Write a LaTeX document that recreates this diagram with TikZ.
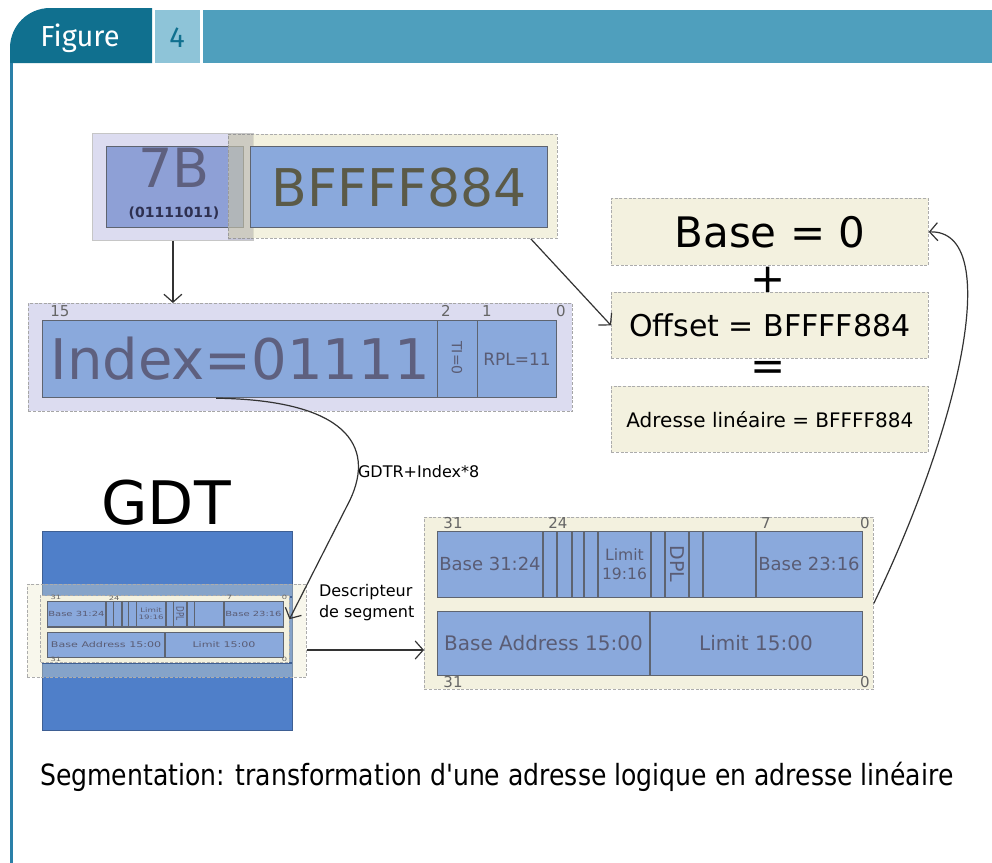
\documentclass[tikz,border=0pt]{standalone}
\usepackage{fontspec}
\setmainfont{DejaVu Sans}
\newfontfamily\headfont{Fira Sans}
\newfontfamily\capfont{DejaVu Sans}[FakeStretch=0.86]
\usetikzlibrary{arrows.meta}

\definecolor{cellblue}{HTML}{8AA9DC}
\definecolor{selblue}{HTML}{8EA0D6}
\definecolor{lavender}{HTML}{DCDCF0}
\definecolor{paper}{HTML}{F3F1DF}
\definecolor{paperdeep}{HTML}{ECE9CB}
\definecolor{gdtblue}{HTML}{4F7FC9}
\definecolor{gdtedge}{HTML}{3E5F93}
\definecolor{figdark}{HTML}{10708F}
\definecolor{figlight}{HTML}{8EC4D8}
\definecolor{figmid}{HTML}{4F9FBD}
\definecolor{figline}{HTML}{2A80A8}
\definecolor{celltext}{HTML}{5A5C74}
\definecolor{celledge}{HTML}{5E6470}
\definecolor{selfg}{HTML}{5E607F}
\definecolor{offfg}{HTML}{5B5A47}
\definecolor{binfg}{HTML}{2E3050}
\definecolor{arrowgray}{HTML}{333333}

\newcommand\fsz[1]{\fontsize{#1}{#1}\selectfont}

\tikzset{
  wh/.style 2 args={minimum width=#1*0.5pt, minimum height=#2*0.5pt},
  cell/.style={draw=celledge, line width=0.6pt, fill=cellblue, inner sep=0pt, text=celltext},
  paperbox/.style={draw=gray!65, line width=0.4pt, dash pattern=on 1.5pt off 0.8pt, fill=paper, inner sep=0pt},
  lavbox/.style={draw=gray!45, line width=0.4pt, fill=lavender, inner sep=0pt},
  divider/.style={draw=celledge, line width=0.8pt},
  bitnum/.style={text=gray!80!black, font=\fsz{7.5pt}, inner sep=0pt},
  arr/.style={draw=arrowgray, line width=0.6pt, -{Straight Barb[length=4pt,width=9pt]}},
  desc/.pic={
    % the 8 bytes of a descriptor, two words
    \node[paperbox, wh={449}{172}, anchor=north west] (-frame) at (0,0) {};
    \node[cell, wh={425}{66}, anchor=north west] (-r1) at (13,14) {};
    \node[cell, wh={425}{64}, anchor=north west] (-r2) at (13,94) {};
    \foreach \x in {119,133,148,160,174,227,241,265,279,332}
      \draw[divider] (\x,14) -- (\x,80);
    \draw[divider] (226,94) -- (226,158);
    \foreach \x/\y/\bitval in {29/6/31, 134/6/24, 342/6/7, 441/6/0, 29/165/31, 441/165/0}
      \node[bitnum] at (\x,\y) {\bitval};
    \node[text=celltext, font=\fsz{9pt}] at (66,47) {Base 31:24};
    \node[text=celltext, font=\fontsize{7.8}{9.5}\selectfont, align=center, inner sep=0pt] at (200.5,47) {Limit\\19:16};
    \node[text=celltext, font=\fsz{9.5pt}, rotate=-90] at (253,47) {DPL};
    \node[text=celltext, font=\fsz{9pt}] at (385,47) {Base 23:16};
    \node[text=celltext, font=\fsz{10pt}] at (119.5,126) {Base Address 15:00};
    \node[text=celltext, font=\fsz{10pt}] at (332,126) {Limit 15:00};
  }
}

\begin{document}
\begin{tikzpicture}[x=0.5pt,y=-0.5pt]
\useasboundingbox (0,0) rectangle (992,863);
\fill[white] (0,0) rectangle (992,863);

% header of the figure
\fill[figdark, rounded corners=20pt] (10,63) |- (100,8) [sharp corners] -- (152,8) -- (152,63) -- cycle;
\fill[figlight] (155,10) rectangle (200,63);
\fill[figmid] (203,10) rectangle (992,63);
\fill[figline] (10,63) rectangle (13,863);
\node[text=white, font=\headfont\fsz{14.5pt}] (figlabel) at (80,38) {Figure};
\node[text=figdark, font=\headfont\fsz{14.5pt}] (fignum) at (177,38) {4};

% logical address: selector and offset
\node[lavbox, wh={161}{107}, anchor=north west] (selframe) at (92,133) {};
\node[cell, fill=selblue, wh={137}{81}, anchor=north west] (selcell) at (106,146) {};
\node[text=selfg, font=\fsz{27pt}] (seltxt) at (174,168) {7B};
\node[text=binfg, font=\bfseries\fsz{7pt}] (selbin) at (174,213) {(01111011)};
\node[paperbox, fill=paperdeep, fill opacity=.6, wh={329}{104}, anchor=north west] (offframe) at (228,134) {};
\fill[black, opacity=.1] (228,134) rectangle (253,240);
\node[cell, wh={297}{81}, anchor=north west, text=offfg, font=\fsz{26pt}] (offcell) at (250,146) {BFFFF884};

% selector fields
\node[lavbox, dash pattern=on 1.5pt off 0.8pt, draw=gray!70, wh={544}{108}, anchor=north west] (idxframe) at (28,303) {};
\node[cell, wh={395}{77}, anchor=north west, text=selfg, font=\fsz{28pt}] (idxcell) at (42,320) {Index=01111};
\node[cell, wh={40}{77}, anchor=north west] (ticell) at (437,320) {};
\node[cell, wh={79}{77}, anchor=north west, font=\fsz{8.5pt}] (rplcell) at (477,320) {RPL=11};
\node[text=celltext, font=\fsz{7pt}, rotate=-90] (titxt) at (457,358) {TI=0};
\foreach \x/\bitval in {60/15, 446/2, 487/1, 561/0}
  \node[bitnum] at (\x,311) {\bitval};

% linear address
\node[paperbox, wh={317}{67}, anchor=north west, font=\fsz{21pt}] (base) at (611,198) {Base = 0};
\node[font=\fsz{21pt}] (plus) at (768,280) {+};
\node[paperbox, wh={317}{66}, anchor=north west, font=\fsz{15pt}] (offset) at (611,292) {Offset = BFFFF884};
\node[font=\fsz{21pt}] (equals) at (768,371) {=};
\node[paperbox, wh={317}{66}, anchor=north west, font=\fsz{10pt}] (linear) at (611,386) {Adresse linéaire = BFFFF884};

% global descriptor table
\node[font=\fsz{30pt}] (gdtlabel) at (166,503) {GDT};
\node[draw=gdtedge, fill=gdtblue, wh={250}{199}, anchor=north west] (gdt) at (42,531) {};
\node[paperbox, fill=paperdeep, fill opacity=.35, wh={279}{93}, anchor=north west] (gdtsel) at (27,584) {};
\draw[gdtedge, line width=1pt] (42,597) -- (292,597) (42,663) -- (292,663);
\pic[xscale=.555, yscale=.39, transform shape] (mini) at (39.8,595.5) {desc};

% the descriptor, full size
\pic (desc) at (424,517) {desc};

% connectors
\draw[arr] (selframe.south) -- (selframe.south |- idxframe.north);
\draw[arr] ([xshift=-13.5pt]offframe.south east) -- (offset.west);
\draw[arr] ([xshift=-12pt]idxcell.south) .. controls (345,400) and (376,445) .. (350,500) -- ([yshift=5pt]mini-frame.east);
\node[font=\fsz{8pt}, anchor=west] (gdtr) at (351,472) {GDTR+Index*8};
\node[font=\fontsize{8}{10.5}\selectfont, align=left, anchor=west] (desclabel) at (312,603) {Descripteur\\de segment};
\draw[arr] (gdtsel.east |- 0,650) -- (desc-frame.west |- 0,650);
\draw[arr] (desc-frame.east) .. controls (962,420) and (1003,230) .. (base.east);

\node[anchor=west, font=\capfont\fsz{14.6pt}] (caption) at (33,777) {Segmentation: transformation d'une adresse logique en adresse linéaire};
\end{tikzpicture}
\end{document}
